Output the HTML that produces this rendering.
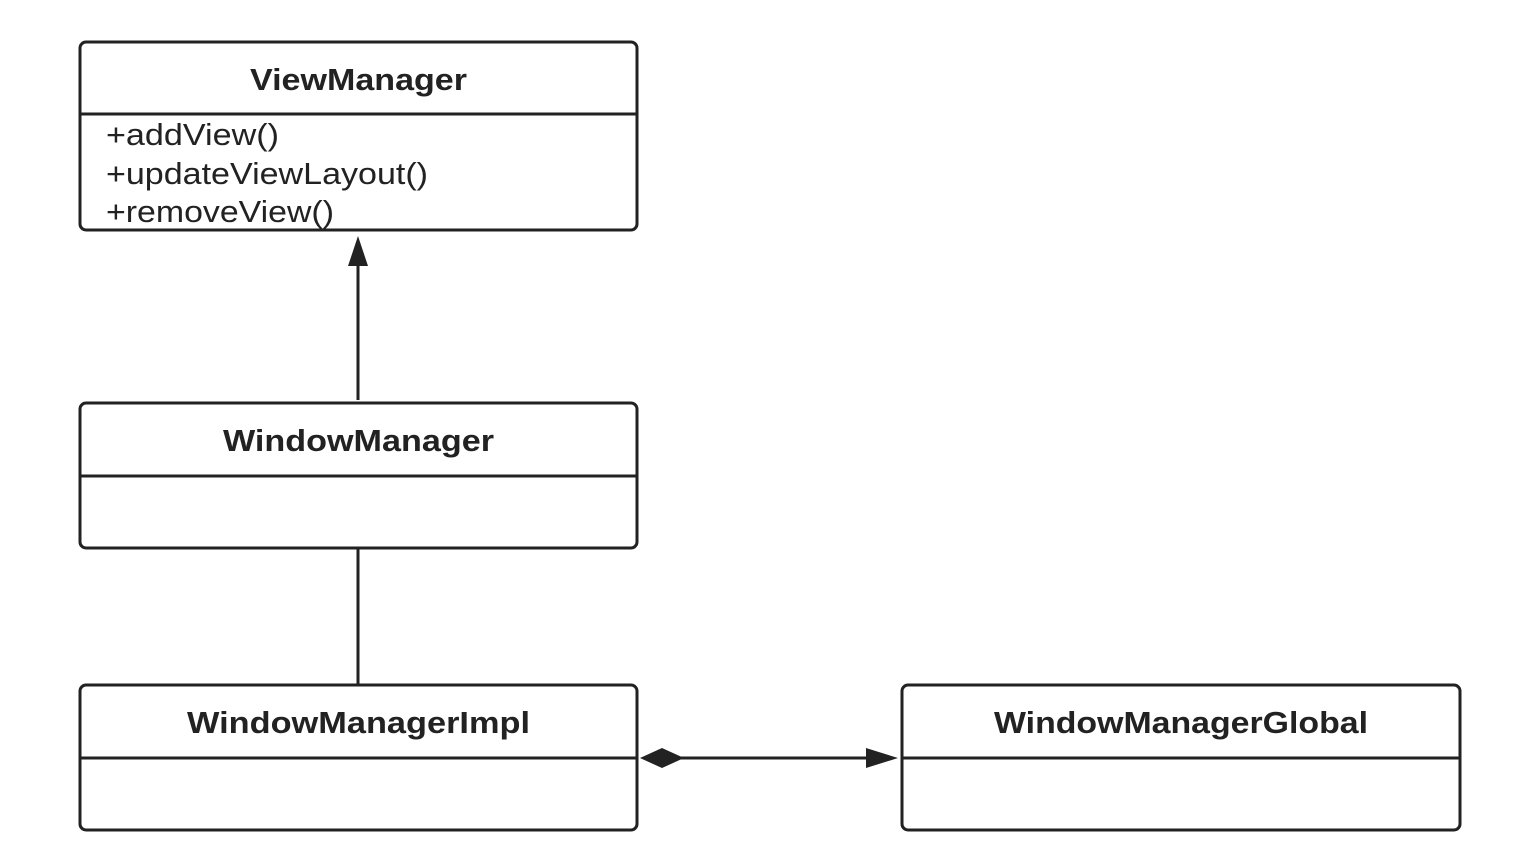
<!DOCTYPE html>
<html><head><meta charset="utf-8"><style>
html,body{margin:0;padding:0;background:#fff;width:1513px;height:864px;overflow:hidden}
svg text{font-family:"Liberation Sans","DejaVu Sans",sans-serif;fill:#222}
</style></head><body>
<svg width="1513" height="864" viewBox="0 0 1513 864" xmlns="http://www.w3.org/2000/svg">
<g fill="#fff" stroke="#222" stroke-width="3">
<rect x="80" y="42" width="557" height="188" rx="6"/>
<line x1="80" y1="114" x2="637" y2="114"/>
<rect x="80" y="403" width="557" height="145" rx="6"/>
<line x1="80" y1="476" x2="637" y2="476"/>
<rect x="80" y="685" width="557" height="145" rx="6"/>
<line x1="80" y1="758" x2="637" y2="758"/>
<rect x="902" y="685" width="558" height="145" rx="6"/>
<line x1="902" y1="758" x2="1460" y2="758"/>
<line x1="358" y1="400" x2="358" y2="262"/>
<line x1="358" y1="548" x2="358" y2="685"/>
<line x1="680" y1="758" x2="870" y2="758"/>
</g>
<polygon points="358,236 348,266 368,266" fill="#222"/>
<polygon points="640,758 662,748 684,758 662,768" fill="#222"/>
<polygon points="898,758 866,748 866,768" fill="#222"/>
<g font-weight="bold" font-size="31" lengthAdjust="spacingAndGlyphs">
<text x="250" y="90" textLength="217" lengthAdjust="spacingAndGlyphs">ViewManager</text>
<text x="223" y="451" textLength="271" lengthAdjust="spacingAndGlyphs">WindowManager</text>
<text x="187" y="733" textLength="343" lengthAdjust="spacingAndGlyphs">WindowManagerImpl</text>
<text x="994" y="733" textLength="374" lengthAdjust="spacingAndGlyphs">WindowManagerGlobal</text>
</g>
<g font-size="31">
<text x="106" y="145" textLength="173" lengthAdjust="spacingAndGlyphs">+addView()</text>
<text x="106" y="184" textLength="322" lengthAdjust="spacingAndGlyphs">+updateViewLayout()</text>
<text x="106" y="222" textLength="228" lengthAdjust="spacingAndGlyphs">+removeView()</text>
</g>
</svg>
</body></html>
